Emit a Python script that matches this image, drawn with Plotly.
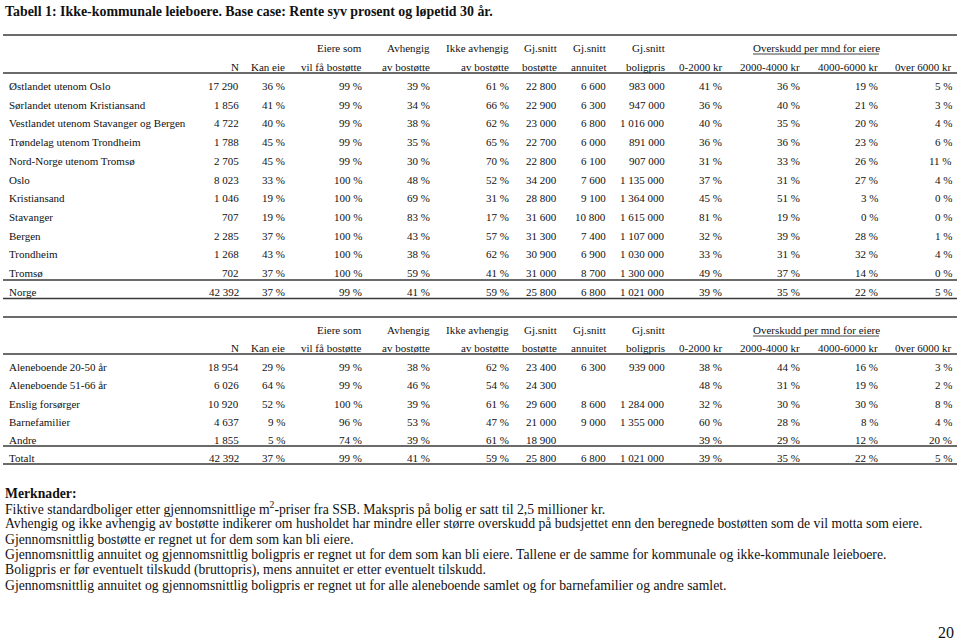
import plotly.graph_objects as go

# ---------------- data ----------------
title = "Tabell 1: Ikke-kommunale leieboere. Base case: Rente syv prosent og løpetid 30 år."

head1 = ["", "", "Eiere som", "Avhengig", "Ikke avhengig", "Gj.snitt", "Gj.snitt", "Gj.snitt", "", "", "", ""]
head2 = ["N", "Kan eie", "vil få bostøtte", "av bostøtte", "av bostøtte", "bostøtte", "annuitet",
         "boligpris", "0-2000 kr", "2000-4000 kr", "4000-6000 kr", "0ver 6000 kr"]
group_head = "Overskudd per mnd for eiere"

regions = ["Østlandet utenom Oslo", "Sørlandet utenom Kristiansand", "Vestlandet utenom Stavanger og Bergen",
           "Trøndelag utenom Trondheim", "Nord-Norge utenom Tromsø", "Oslo", "Kristiansand", "Stavanger",
           "Bergen", "Trondheim", "Tromsø", "Norge"]
r_n = [17290, 1856, 4722, 1788, 2705, 8023, 1046, 707, 2285, 1268, 702, 42392]
r_kan_eie = [36, 41, 40, 45, 45, 33, 19, 19, 37, 43, 37, 37]
r_eiere_bost = [99, 99, 99, 99, 99, 100, 100, 100, 100, 100, 100, 99]
r_avh = [39, 34, 38, 35, 30, 48, 69, 83, 43, 38, 59, 41]
r_ikke_avh = [61, 66, 62, 65, 70, 52, 31, 17, 57, 62, 41, 59]
r_bostotte = [22800, 22900, 23000, 22700, 22800, 34200, 28800, 31600, 31300, 30900, 31000, 25800]
r_annuitet = [6600, 6300, 6800, 6000, 6100, 7600, 9100, 10800, 7400, 6900, 8700, 6800]
r_boligpris = [983000, 947000, 1016000, 891000, 907000, 1135000, 1364000, 1615000, 1107000, 1030000, 1300000, 1021000]
r_o0_2000 = [41, 36, 40, 36, 31, 37, 45, 81, 32, 33, 49, 39]
r_o2000_4000 = [36, 40, 35, 36, 33, 31, 51, 19, 39, 31, 37, 35]
r_o4000_6000 = [19, 21, 20, 23, 26, 27, 3, 0, 28, 32, 14, 22]
r_o6000 = [5, 3, 4, 6, 11, 4, 0, 0, 1, 4, 0, 5]

groups = ["Aleneboende 20-50 år", "Aleneboende 51-66 år", "Enslig forsørger", "Barnefamilier", "Andre", "Totalt"]
g_n = [18954, 6026, 10920, 4637, 1855, 42392]
g_kan_eie = [29, 64, 52, 9, 5, 37]
g_eiere_bost = [99, 99, 100, 96, 74, 99]
g_avh = [38, 46, 39, 53, 39, 41]
g_ikke_avh = [62, 54, 61, 47, 61, 59]
g_bostotte = [23400, 24300, 29600, 21000, 18900, 25800]
g_annuitet = [6300, None, 8600, 9000, None, 6800]
g_boligpris = [939000, None, 1284000, 1355000, None, 1021000]
g_o0_2000 = [38, 48, 32, 60, 39, 39]
g_o2000_4000 = [44, 31, 30, 28, 29, 35]
g_o4000_6000 = [16, 19, 30, 8, 12, 22]
g_o6000 = [3, 2, 8, 4, 20, 5]

notes_head = "Merknader:"
notes = [
    "Fiktive standardboliger etter gjennomsnittlige m<sup>2</sup>-priser fra SSB. Makspris på bolig er satt til 2,5 millioner kr.",
    "Avhengig og ikke avhengig av bostøtte indikerer om husholdet har mindre eller større overskudd på budsjettet enn den beregnede bostøtten som de vil motta som eiere.",
    "Gjennomsnittlig bostøtte er regnet ut for dem som kan bli eiere.",
    "Gjennomsnittlig annuitet og gjennomsnittlig boligpris er regnet ut for dem som kan bli eiere. Tallene er de samme for kommunale og ikke-kommunale leieboere.",
    "Boligpris er før eventuelt tilskudd (bruttopris), mens annuitet er etter eventuelt tilskudd.",
    "Gjennomsnittlig annuitet og gjennomsnittlig boligpris er regnet ut for alle aleneboende samlet og for barnefamilier og andre samlet.",
]
page_no = "20"

# ---------------- layout helpers ----------------
FONT = "Liberation Serif, Times New Roman, serif"
TXT = "#111111"
LINE = "#3a3a3a"
col_right = [241, 287, 364, 432, 511, 559, 608, 667, 724, 802, 880, 954]
col_kind = ["n", "p", "p", "p", "p", "n", "n", "n", "p", "p", "p", "p"]


def fmt(v, kind):
    if v is None:
        return ""
    if kind == "p":
        return f"{v} %"
    return f"{v:,}".replace(",", " ")


fig = go.Figure()
ann = []
shapes = []


def text(x, y, s, size=11, anchor="left", bold=False):
    if not s:
        return
    ann.append(dict(x=x, y=y, xref="x", yref="y", text=f"<b>{s}</b>" if bold else s,
                    showarrow=False, xanchor=anchor, yanchor="middle",
                    font=dict(family=FONT, size=size, color=TXT)))


def hline(y, x0=3, x1=957, w=1.5):
    shapes.append(dict(type="line", xref="x", yref="y", x0=x0, x1=x1, y0=y, y1=y,
                       line=dict(color=LINE, width=w)))


def table(labels, cols, top, h1y, h2y, rule_y, row_ys, sep_y, last_y, bottom_y):
    hline(top)
    for i, x in enumerate(col_right):
        text(x, h1y, head1[i], anchor="right")
        text(x, h2y, head2[i], anchor="right")
    text(816, h1y, group_head, anchor="center")
    shapes.append(dict(type="line", xref="x", yref="y", x0=753, x1=879, y0=h1y + 6, y1=h1y + 6,
                       line=dict(color=TXT, width=0.8)))
    hline(rule_y)
    ys = list(row_ys) + [last_y]
    for r, lab in enumerate(labels):
        text(7, ys[r], lab)
        for c, x in enumerate(col_right):
            text(x, ys[r], fmt(cols[c][r], col_kind[c]), anchor="right")
    hline(sep_y)
    hline(bottom_y)


text(3, 11, title, size=13.9, bold=True)

t1_cols = [r_n, r_kan_eie, r_eiere_bost, r_avh, r_ikke_avh, r_bostotte, r_annuitet, r_boligpris,
           r_o0_2000, r_o2000_4000, r_o4000_6000, r_o6000]
table(regions, t1_cols, 35, 48, 67, 73, [86 + 18.7 * i for i in range(11)], 280, 292, 298.5)

t2_cols = [g_n, g_kan_eie, g_eiere_bost, g_avh, g_ikke_avh, g_bostotte, g_annuitet, g_boligpris,
           g_o0_2000, g_o2000_4000, g_o4000_6000, g_o6000]
table(groups, t2_cols, 317, 330, 348, 354, [367 + 18.3 * i for i in range(5)], 446, 458, 464)

text(3, 493, notes_head, size=13.7, bold=True)
for i, s in enumerate(notes):
    text(3, 508 + 15.5 * i, s, size=13.7)
text(956, 632, page_no, size=16, anchor="right")

fig.update_layout(
    width=960, height=641, margin=dict(l=0, r=0, t=0, b=0),
    paper_bgcolor="white", plot_bgcolor="white",
    xaxis=dict(range=[0, 960], visible=False, fixedrange=True),
    yaxis=dict(range=[641, 0], visible=False, fixedrange=True),
    annotations=ann, shapes=shapes, showlegend=False,
)
fig.write_html("out.html", config={"displayModeBar": False},
               post_script="document.body.style.margin='0';document.body.style.overflow='hidden';")
